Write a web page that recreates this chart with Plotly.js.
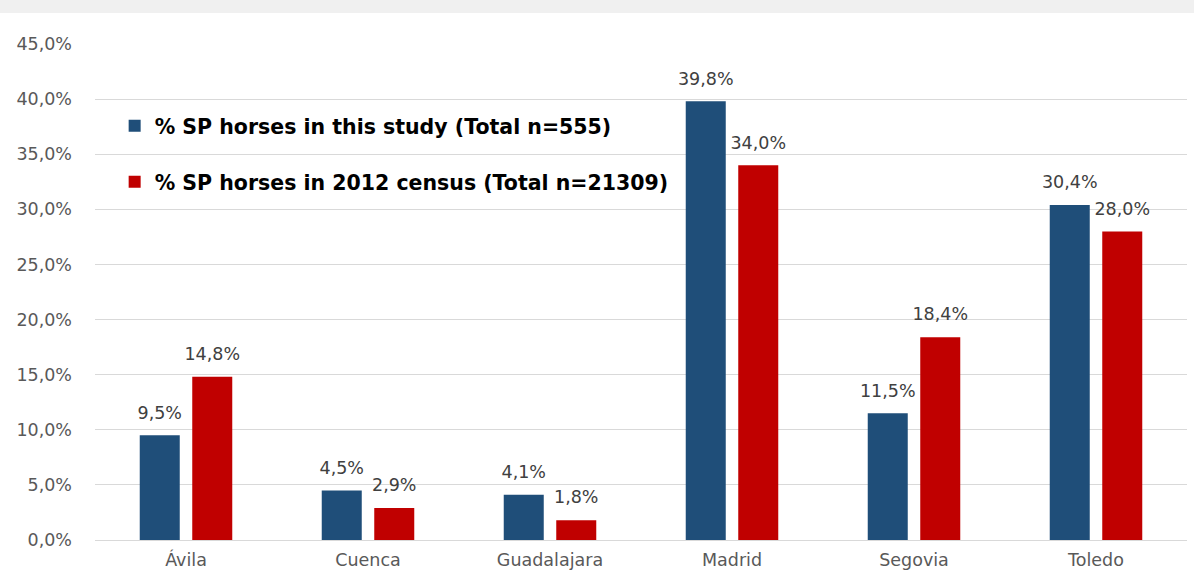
<!DOCTYPE html>
<html><head><meta charset="utf-8">
<script src="https://cdn.plot.ly/plotly-3.0.1.min.js"></script>
<style>html,body{margin:0;padding:0;background:#fff}#c{width:1194px;height:575px}</style>
</head><body><div id="c"></div>
<script>
const categories = ["Ávila","Cuenca","Guadalajara","Madrid","Segovia","Toledo"];
const studyPct = [9.5, 4.5, 4.1, 39.8, 11.5, 30.4];
const censusPct = [14.8, 2.9, 1.8, 34.0, 18.4, 28.0];
const seriesNames = ["% SP horses in this study (Total n=555)", "% SP horses in 2012 census (Total n=21309)"];
const yTicks = [0,5,10,15,20,25,30,35,40,45];
const yTickText = yTicks.map(v => v.toFixed(1).replace(".", ",") + "%");

const labelFont = {family:"DejaVu Sans, sans-serif", size:9, color:"#404040"};
const tmpl = "<span style='font-size:17.5px'>%{y:.1f}%</span><br> ";
const traces = [
  {type:"bar", x:categories, y:studyPct, name:seriesNames[0], legend:"legend",
   marker:{color:"#1F4E79"}, texttemplate:tmpl, textposition:"outside", constraintext:"none",
   textfont:labelFont, cliponaxis:false, hoverinfo:"skip"},
  {type:"bar", x:categories, y:censusPct, name:seriesNames[1], legend:"legend2",
   marker:{color:"#C00000"}, texttemplate:tmpl, textposition:"outside", constraintext:"none",
   textfont:labelFont, cliponaxis:false, hoverinfo:"skip"}
];
const legFont = {family:"DejaVu Sans, sans-serif", size:20.5, color:"#000", weight:"bold"};
const tickFont = {family:"DejaVu Sans, sans-serif", size:17.5, color:"#595959"};
const layout = {
  width:1194, height:575,
  margin:{l:95, r:7, t:44, b:35},
  paper_bgcolor:"#fff", plot_bgcolor:"#fff",
  separators:",.",
  barmode:"group", bargap:0.423, bargroupgap:0.238,
  showlegend:true,
  legend:{x:0.018, y:0.835, xanchor:"left", yanchor:"middle", font:legFont, bgcolor:"rgba(0,0,0,0)", itemwidth:30},
  legend2:{x:0.018, y:0.722, xanchor:"left", yanchor:"middle", font:legFont, bgcolor:"rgba(0,0,0,0)", itemwidth:30},
  xaxis:{showgrid:false, showline:true, linecolor:"#d9d9d9", linewidth:1,
         tickfont:tickFont, ticklabelstandoff:4},
  yaxis:{range:[0,45], tickvals:yTicks, ticktext:yTickText,
         showgrid:true, gridcolor:"#d9d9d9", gridwidth:1, zeroline:false,
         tickfont:tickFont, ticklabelstandoff:22},
  shapes:[
    {type:"rect", xref:"paper", yref:"paper", x0:-0.1, x1:1.01, y0:1.0625, y1:1.1, fillcolor:"#f0f0f0", line:{width:0}, layer:"below"}
  ]
};
Plotly.newPlot("c", traces, layout, {displayModeBar:false});
</script></body></html>
